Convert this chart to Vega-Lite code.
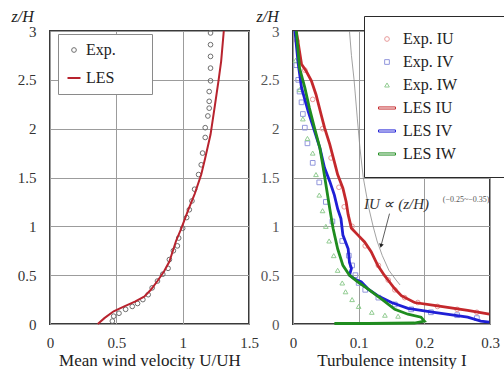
{
  "$schema": "https://vega.github.io/schema/vega-lite/v6.json",
  "padding": {"left": 10, "top": 7, "right": 0, "bottom": 0},
  "autosize": {"type": "pad"},
  "spacing": 44,
  "bounds": "flush",
  "resolve": {
    "scale": {"color": "independent", "shape": "independent", "size": "independent", "strokeWidth": "independent"},
    "legend": {"color": "independent", "shape": "independent", "size": "independent", "strokeWidth": "independent"}
  },
  "config": {
    "font": "Liberation Serif",
    "view": {"stroke": "#3a3a3a", "strokeWidth": 2},
    "axis": {"grid": true, "gridColor": "#9c9c9c", "gridWidth": 1, "domain": false, "ticks": false, "labelFont": "Liberation Serif", "labelFontSize": 15, "labelColor": "#333333", "titleFont": "Liberation Serif", "titleFontWeight": "normal", "titleFontSize": 17, "titleColor": "#222222"},
    "axisX": {"labelPadding": 11, "titlePadding": 2, "labelFlush": false},
    "axisY": {"labelPadding": 14, "titleAngle": 0, "titleAlign": "left", "titleBaseline": "alphabetic", "titleY": -10, "titleFontSize": 16, "titleFontStyle": "italic", "labelFlush": false},
    "legend": {"title": null}
  },
  "datasets": {
    "left": [
      {"s": "Exp.", "U": 1.21, "z": 2.98}, {"s": "Exp.", "U": 1.21, "z": 2.86}, {"s": "Exp.", "U": 1.21, "z": 2.74}, {"s": "Exp.", "U": 1.21, "z": 2.62},
      {"s": "Exp.", "U": 1.21, "z": 2.49}, {"s": "Exp.", "U": 1.2, "z": 2.38}, {"s": "Exp.", "U": 1.2, "z": 2.28}, {"s": "Exp.", "U": 1.2, "z": 2.21},
      {"s": "Exp.", "U": 1.19, "z": 2.13}, {"s": "Exp.", "U": 1.17, "z": 2.01}, {"s": "Exp.", "U": 1.17, "z": 1.91}, {"s": "Exp.", "U": 1.15, "z": 1.75},
      {"s": "Exp.", "U": 1.14, "z": 1.63}, {"s": "Exp.", "U": 1.12, "z": 1.53}, {"s": "Exp.", "U": 1.09, "z": 1.38}, {"s": "Exp.", "U": 1.07, "z": 1.26},
      {"s": "Exp.", "U": 1.05, "z": 1.17}, {"s": "Exp.", "U": 1.03, "z": 1.09}, {"s": "Exp.", "U": 1.0, "z": 0.98}, {"s": "Exp.", "U": 0.97, "z": 0.88},
      {"s": "Exp.", "U": 0.96, "z": 0.8}, {"s": "Exp.", "U": 0.93, "z": 0.75}, {"s": "Exp.", "U": 0.9, "z": 0.66}, {"s": "Exp.", "U": 0.89, "z": 0.57},
      {"s": "Exp.", "U": 0.85, "z": 0.51}, {"s": "Exp.", "U": 0.81, "z": 0.44}, {"s": "Exp.", "U": 0.77, "z": 0.37}, {"s": "Exp.", "U": 0.74, "z": 0.3},
      {"s": "Exp.", "U": 0.7, "z": 0.25}, {"s": "Exp.", "U": 0.66, "z": 0.21}, {"s": "Exp.", "U": 0.62, "z": 0.18}, {"s": "Exp.", "U": 0.57, "z": 0.15},
      {"s": "Exp.", "U": 0.52, "z": 0.11}, {"s": "Exp.", "U": 0.48, "z": 0.08}, {"s": "Exp.", "U": 0.47, "z": 0.03},
      {"s": "LES", "i": 0, "U": 0.36, "z": 0.0}, {"s": "LES", "i": 1, "U": 0.41, "z": 0.06}, {"s": "LES", "i": 2, "U": 0.48, "z": 0.13},
      {"s": "LES", "i": 3, "U": 0.56, "z": 0.18}, {"s": "LES", "i": 4, "U": 0.64, "z": 0.23}, {"s": "LES", "i": 5, "U": 0.71, "z": 0.28},
      {"s": "LES", "i": 6, "U": 0.76, "z": 0.35}, {"s": "LES", "i": 7, "U": 0.81, "z": 0.44}, {"s": "LES", "i": 8, "U": 0.86, "z": 0.54},
      {"s": "LES", "i": 9, "U": 0.9, "z": 0.64}, {"s": "LES", "i": 10, "U": 0.95, "z": 0.85}, {"s": "LES", "i": 11, "U": 0.99, "z": 0.98},
      {"s": "LES", "i": 12, "U": 1.04, "z": 1.16}, {"s": "LES", "i": 13, "U": 1.09, "z": 1.33}, {"s": "LES", "i": 14, "U": 1.14, "z": 1.53},
      {"s": "LES", "i": 15, "U": 1.17, "z": 1.7}, {"s": "LES", "i": 16, "U": 1.21, "z": 1.94}, {"s": "LES", "i": 17, "U": 1.24, "z": 2.21},
      {"s": "LES", "i": 18, "U": 1.27, "z": 2.49}, {"s": "LES", "i": 19, "U": 1.29, "z": 2.69}, {"s": "LES", "i": 20, "U": 1.31, "z": 3.0}
    ],
    "right": [
      {"s": "Exp. IU", "I": 0.006, "z": 2.9}, {"s": "Exp. IU", "I": 0.018, "z": 2.6}, {"s": "Exp. IU", "I": 0.03, "z": 2.3}, {"s": "Exp. IU", "I": 0.045, "z": 2.0},
      {"s": "Exp. IU", "I": 0.058, "z": 1.7}, {"s": "Exp. IU", "I": 0.07, "z": 1.4}, {"s": "Exp. IU", "I": 0.078, "z": 1.2}, {"s": "Exp. IU", "I": 0.09, "z": 1.0},
      {"s": "Exp. IU", "I": 0.11, "z": 0.8}, {"s": "Exp. IU", "I": 0.13, "z": 0.6}, {"s": "Exp. IU", "I": 0.145, "z": 0.45}, {"s": "Exp. IU", "I": 0.155, "z": 0.35},
      {"s": "Exp. IU", "I": 0.17, "z": 0.27}, {"s": "Exp. IU", "I": 0.19, "z": 0.22}, {"s": "Exp. IU", "I": 0.22, "z": 0.18}, {"s": "Exp. IU", "I": 0.25, "z": 0.15},
      {"s": "Exp. IU", "I": 0.28, "z": 0.12},
      {"s": "Exp. IV", "I": 0.005, "z": 2.65}, {"s": "Exp. IV", "I": 0.008, "z": 2.5}, {"s": "Exp. IV", "I": 0.01, "z": 2.38}, {"s": "Exp. IV", "I": 0.013, "z": 2.27},
      {"s": "Exp. IV", "I": 0.015, "z": 2.15}, {"s": "Exp. IV", "I": 0.018, "z": 2.01}, {"s": "Exp. IV", "I": 0.022, "z": 1.85}, {"s": "Exp. IV", "I": 0.03, "z": 1.65},
      {"s": "Exp. IV", "I": 0.04, "z": 1.45}, {"s": "Exp. IV", "I": 0.05, "z": 1.25}, {"s": "Exp. IV", "I": 0.06, "z": 1.05}, {"s": "Exp. IV", "I": 0.075, "z": 0.85},
      {"s": "Exp. IV", "I": 0.085, "z": 0.7}, {"s": "Exp. IV", "I": 0.09, "z": 0.6}, {"s": "Exp. IV", "I": 0.095, "z": 0.5}, {"s": "Exp. IV", "I": 0.1, "z": 0.42},
      {"s": "Exp. IV", "I": 0.11, "z": 0.35}, {"s": "Exp. IV", "I": 0.13, "z": 0.27}, {"s": "Exp. IV", "I": 0.155, "z": 0.2}, {"s": "Exp. IV", "I": 0.18, "z": 0.15},
      {"s": "Exp. IV", "I": 0.21, "z": 0.12}, {"s": "Exp. IV", "I": 0.25, "z": 0.09}, {"s": "Exp. IV", "I": 0.28, "z": 0.06},
      {"s": "Exp. IW", "I": 0.004, "z": 2.7}, {"s": "Exp. IW", "I": 0.01, "z": 2.4}, {"s": "Exp. IW", "I": 0.015, "z": 2.1}, {"s": "Exp. IW", "I": 0.022, "z": 1.9},
      {"s": "Exp. IW", "I": 0.03, "z": 1.75}, {"s": "Exp. IW", "I": 0.035, "z": 1.53}, {"s": "Exp. IW", "I": 0.04, "z": 1.32}, {"s": "Exp. IW", "I": 0.045, "z": 1.16},
      {"s": "Exp. IW", "I": 0.05, "z": 1.0}, {"s": "Exp. IW", "I": 0.055, "z": 0.85}, {"s": "Exp. IW", "I": 0.062, "z": 0.7}, {"s": "Exp. IW", "I": 0.068, "z": 0.55},
      {"s": "Exp. IW", "I": 0.075, "z": 0.42}, {"s": "Exp. IW", "I": 0.08, "z": 0.33}, {"s": "Exp. IW", "I": 0.09, "z": 0.25}, {"s": "Exp. IW", "I": 0.1, "z": 0.18},
      {"s": "Exp. IW", "I": 0.12, "z": 0.12}, {"s": "Exp. IW", "I": 0.14, "z": 0.09}, {"s": "Exp. IW", "I": 0.16, "z": 0.08},
      {"s": "LES IU", "i": 0, "I": 0.005, "z": 3.0}, {"s": "LES IU", "i": 1, "I": 0.013, "z": 2.66}, {"s": "LES IU", "i": 2, "I": 0.02, "z": 2.59},
      {"s": "LES IU", "i": 3, "I": 0.028, "z": 2.49}, {"s": "LES IU", "i": 4, "I": 0.035, "z": 2.35}, {"s": "LES IU", "i": 5, "I": 0.043, "z": 2.14},
      {"s": "LES IU", "i": 6, "I": 0.048, "z": 2.01}, {"s": "LES IU", "i": 7, "I": 0.056, "z": 1.84}, {"s": "LES IU", "i": 8, "I": 0.063, "z": 1.66},
      {"s": "LES IU", "i": 9, "I": 0.068, "z": 1.53}, {"s": "LES IU", "i": 10, "I": 0.076, "z": 1.39}, {"s": "LES IU", "i": 11, "I": 0.081, "z": 1.25},
      {"s": "LES IU", "i": 12, "I": 0.084, "z": 1.12}, {"s": "LES IU", "i": 13, "I": 0.089, "z": 0.98}, {"s": "LES IU", "i": 14, "I": 0.099, "z": 0.91},
      {"s": "LES IU", "i": 15, "I": 0.109, "z": 0.84}, {"s": "LES IU", "i": 16, "I": 0.119, "z": 0.74}, {"s": "LES IU", "i": 17, "I": 0.129, "z": 0.6},
      {"s": "LES IU", "i": 18, "I": 0.139, "z": 0.5}, {"s": "LES IU", "i": 19, "I": 0.147, "z": 0.43}, {"s": "LES IU", "i": 20, "I": 0.155, "z": 0.36},
      {"s": "LES IU", "i": 21, "I": 0.165, "z": 0.29}, {"s": "LES IU", "i": 22, "I": 0.185, "z": 0.22}, {"s": "LES IU", "i": 23, "I": 0.215, "z": 0.19},
      {"s": "LES IU", "i": 24, "I": 0.266, "z": 0.14}, {"s": "LES IU", "i": 25, "I": 0.299, "z": 0.1},
      {"s": "LES IV", "i": 0, "I": 0.003, "z": 3.0}, {"s": "LES IV", "i": 1, "I": 0.008, "z": 2.66}, {"s": "LES IV", "i": 2, "I": 0.013, "z": 2.42},
      {"s": "LES IV", "i": 3, "I": 0.023, "z": 2.18}, {"s": "LES IV", "i": 4, "I": 0.033, "z": 1.97}, {"s": "LES IV", "i": 5, "I": 0.041, "z": 1.8},
      {"s": "LES IV", "i": 6, "I": 0.048, "z": 1.6}, {"s": "LES IV", "i": 7, "I": 0.056, "z": 1.46}, {"s": "LES IV", "i": 8, "I": 0.063, "z": 1.32},
      {"s": "LES IV", "i": 9, "I": 0.068, "z": 1.18}, {"s": "LES IV", "i": 10, "I": 0.073, "z": 1.08}, {"s": "LES IV", "i": 11, "I": 0.076, "z": 0.91},
      {"s": "LES IV", "i": 12, "I": 0.084, "z": 0.77}, {"s": "LES IV", "i": 13, "I": 0.086, "z": 0.63}, {"s": "LES IV", "i": 14, "I": 0.089, "z": 0.57},
      {"s": "LES IV", "i": 15, "I": 0.086, "z": 0.5}, {"s": "LES IV", "i": 16, "I": 0.094, "z": 0.46}, {"s": "LES IV", "i": 17, "I": 0.104, "z": 0.43},
      {"s": "LES IV", "i": 18, "I": 0.114, "z": 0.36}, {"s": "LES IV", "i": 19, "I": 0.129, "z": 0.29}, {"s": "LES IV", "i": 20, "I": 0.15, "z": 0.22},
      {"s": "LES IV", "i": 21, "I": 0.175, "z": 0.16}, {"s": "LES IV", "i": 22, "I": 0.215, "z": 0.12}, {"s": "LES IV", "i": 23, "I": 0.266, "z": 0.07},
      {"s": "LES IV", "i": 24, "I": 0.286, "z": 0.03}, {"s": "LES IV", "i": 25, "I": 0.299, "z": 0.02},
      {"s": "LES IW", "i": 0, "I": 0.005, "z": 3.0}, {"s": "LES IW", "i": 1, "I": 0.01, "z": 2.62}, {"s": "LES IW", "i": 2, "I": 0.018, "z": 2.42},
      {"s": "LES IW", "i": 3, "I": 0.025, "z": 2.21}, {"s": "LES IW", "i": 4, "I": 0.033, "z": 2.0}, {"s": "LES IW", "i": 5, "I": 0.041, "z": 1.8},
      {"s": "LES IW", "i": 6, "I": 0.046, "z": 1.6}, {"s": "LES IW", "i": 7, "I": 0.051, "z": 1.39}, {"s": "LES IW", "i": 8, "I": 0.056, "z": 1.18},
      {"s": "LES IW", "i": 9, "I": 0.061, "z": 0.98}, {"s": "LES IW", "i": 10, "I": 0.068, "z": 0.77}, {"s": "LES IW", "i": 11, "I": 0.076, "z": 0.6},
      {"s": "LES IW", "i": 12, "I": 0.086, "z": 0.5}, {"s": "LES IW", "i": 13, "I": 0.099, "z": 0.43}, {"s": "LES IW", "i": 14, "I": 0.114, "z": 0.36},
      {"s": "LES IW", "i": 15, "I": 0.134, "z": 0.26}, {"s": "LES IW", "i": 16, "I": 0.155, "z": 0.15}, {"s": "LES IW", "i": 17, "I": 0.175, "z": 0.1},
      {"s": "LES IW", "i": 18, "I": 0.195, "z": 0.07}, {"s": "LES IW", "i": 19, "I": 0.2, "z": 0.03}, {"s": "LES IW", "i": 20, "I": 0.185, "z": 0.01},
      {"s": "LES IW", "i": 21, "I": 0.114, "z": 0.005}, {"s": "LES IW", "i": 22, "I": 0.063, "z": 0.005}
    ],
    "power": [
      {"I": 0.086, "z": 3.0}, {"I": 0.089, "z": 2.75}, {"I": 0.093, "z": 2.5}, {"I": 0.098, "z": 2.1}, {"I": 0.102, "z": 1.8},
      {"I": 0.107, "z": 1.5}, {"I": 0.115, "z": 1.2}, {"I": 0.122, "z": 1.0}, {"I": 0.128, "z": 0.85}, {"I": 0.136, "z": 0.7},
      {"I": 0.146, "z": 0.55}, {"I": 0.157, "z": 0.45}, {"I": 0.163, "z": 0.4}
    ]
  },
  "hconcat": [
    {
      "width": 199,
      "height": 293,
      "data": {"name": "left"},
      "encoding": {
        "x": {"field": "U", "type": "quantitative", "scale": {"domain": [0, 1.5], "nice": false}, "axis": {"values": [0, 0.5, 1, 1.5], "format": "~g", "title": "Mean wind velocity U/UH"}},
        "y": {"field": "z", "type": "quantitative", "scale": {"domain": [0, 3], "nice": false}, "axis": {"values": [0, 0.5, 1, 1.5, 2, 2.5, 3], "format": "~g", "title": "z/H", "titleX": -39}}
      },
      "layer": [
        {
          "transform": [{"filter": "datum.s == 'Exp.'"}],
          "mark": {"type": "point", "filled": false, "opacity": 1},
          "encoding": {
            "color": {"field": "s", "type": "nominal", "scale": {"domain": ["Exp.", "LES"], "range": ["#6e6e6e", "#b8232e"]},
              "legend": {"title": "M", "titleOrient": "right", "titleAngle": 0, "titleColor": "transparent", "titleFontSize": 4, "titlePadding": 24, "orient": "none", "legendX": 8, "legendY": 3, "fillColor": "white", "strokeColor": "#8a8a8a", "padding": 8, "rowPadding": 12, "labelFontSize": 16, "labelColor": "#222222", "labelOffset": 4, "encode": {"legend": {"update": {"strokeWidth": {"value": 1.5}}}}}},
            "shape": {"field": "s", "type": "nominal", "scale": {"domain": ["Exp.", "LES"], "range": ["circle", "stroke"]},
              "legend": {"title": "M", "titleOrient": "right", "titleAngle": 0, "titleColor": "transparent", "titleFontSize": 4, "titlePadding": 24, "orient": "none", "legendX": 8, "legendY": 3, "fillColor": "white", "strokeColor": "#8a8a8a", "padding": 8, "rowPadding": 12, "labelFontSize": 16, "labelColor": "#222222", "labelOffset": 4, "encode": {"legend": {"update": {"strokeWidth": {"value": 1.5}}}}}},
            "size": {"field": "s", "type": "nominal", "scale": {"domain": ["Exp.", "LES"], "range": [22, 169]},
              "legend": {"title": "M", "titleOrient": "right", "titleAngle": 0, "titleColor": "transparent", "titleFontSize": 4, "titlePadding": 24, "orient": "none", "legendX": 8, "legendY": 3, "fillColor": "white", "strokeColor": "#8a8a8a", "padding": 8, "rowPadding": 12, "labelFontSize": 16, "labelColor": "#222222", "labelOffset": 4, "encode": {"legend": {"update": {"strokeWidth": {"value": 1.5}}}}}},
            "strokeWidth": {"field": "s", "type": "nominal", "scale": {"domain": ["Exp.", "LES"], "range": [1, 2]},
              "legend": {"title": "M", "titleOrient": "right", "titleAngle": 0, "titleColor": "transparent", "titleFontSize": 4, "titlePadding": 24, "orient": "none", "legendX": 8, "legendY": 3, "fillColor": "white", "strokeColor": "#8a8a8a", "padding": 8, "rowPadding": 12, "labelFontSize": 16, "labelColor": "#222222", "labelOffset": 4, "encode": {"legend": {"update": {"strokeWidth": {"value": 1.5}}}}}}
          }
        },
        {
          "transform": [{"filter": "datum.s == 'LES'"}],
          "mark": {"type": "line", "strokeWidth": 2},
          "encoding": {
            "color": {"field": "s", "type": "nominal", "scale": {"domain": ["Exp.", "LES"], "range": ["#6e6e6e", "#b8232e"]}, "legend": null},
            "order": {"field": "i", "type": "quantitative"}
          }
        }
      ]
    },
    {
      "width": 197,
      "height": 293,
      "encoding": {
        "x": {"field": "I", "type": "quantitative", "scale": {"domain": [0, 0.3], "nice": false}, "axis": {"values": [0, 0.1, 0.2, 0.3], "format": "~g", "title": "Turbulence intensity I"}},
        "y": {"field": "z", "type": "quantitative", "scale": {"domain": [0, 3], "nice": false}, "axis": {"values": [0, 0.5, 1, 1.5, 2, 2.5, 3], "format": "~g", "title": "z/H", "titleX": -37, "labelColor": "#555555"}}
      },
      "layer": [
        {
          "data": {"name": "power"},
          "mark": {"type": "line", "color": "#8a8a8a", "strokeWidth": 0.8},
          "encoding": {}
        },
        {
          "data": {"name": "right"},
          "transform": [{"filter": "indexof(datum.s, 'Exp.') == 0"}],
          "mark": {"type": "point", "filled": false, "opacity": 1, "size": 22, "strokeWidth": 1},
          "encoding": {
            "color": {"field": "s", "type": "nominal", "scale": {"domain": ["Exp. IU", "Exp. IV", "Exp. IW", "LES IU", "LES IV", "LES IW"], "range": ["#e89a9a", "#9297dc", "#92cc92", "#c4282c", "#1f1fd6", "#1f8c1f"]},
              "legend": {"title": "M", "titleOrient": "right", "titleAngle": 0, "titleColor": "transparent", "titleFontSize": 4, "titlePadding": 38, "orient": "none", "legendX": 71, "legendY": -15, "fillColor": "white", "strokeColor": "#2a2a2a", "padding": 15, "rowPadding": 7, "symbolSize": 22, "symbolStrokeWidth": 1, "labelFontSize": 16, "labelColor": "#222222", "labelOffset": 8, "encode": {"legend": {"update": {"strokeWidth": {"value": 2.5}}}}}},
            "shape": {"field": "s", "type": "nominal", "scale": {"domain": ["Exp. IU", "Exp. IV", "Exp. IW", "LES IU", "LES IV", "LES IW"], "range": ["circle", "square", "triangle-up", "M-3.6,-0.45L3.6,-0.45L3.6,0.45L-3.6,0.45Z", "M-3.6,-0.45L3.6,-0.45L3.6,0.45L-3.6,0.45Z", "M-3.6,-0.45L3.6,-0.45L3.6,0.45L-3.6,0.45Z"]},
              "legend": {"title": "M", "titleOrient": "right", "titleAngle": 0, "titleColor": "transparent", "titleFontSize": 4, "titlePadding": 38, "orient": "none", "legendX": 71, "legendY": -15, "fillColor": "white", "strokeColor": "#2a2a2a", "padding": 15, "rowPadding": 7, "symbolSize": 22, "symbolStrokeWidth": 1, "labelFontSize": 16, "labelColor": "#222222", "labelOffset": 8, "encode": {"legend": {"update": {"strokeWidth": {"value": 2.5}}}}}}
          }
        },
        {
          "data": {"name": "right"},
          "transform": [{"filter": "indexof(datum.s, 'LES') == 0"}],
          "mark": {"type": "line", "strokeWidth": 2.8},
          "encoding": {
            "color": {"field": "s", "type": "nominal", "scale": {"domain": ["Exp. IU", "Exp. IV", "Exp. IW", "LES IU", "LES IV", "LES IW"], "range": ["#e89a9a", "#9297dc", "#92cc92", "#c4282c", "#1f1fd6", "#1f8c1f"]}, "legend": null},
            "order": {"field": "i", "type": "quantitative"}
          }
        },
        {
          "data": {"values": [{"I": 0.147, "z": 1.13, "I2": 0.134, "z2": 0.8}]},
          "mark": {"type": "rule", "color": "#333333", "strokeWidth": 0.8},
          "encoding": {"x2": {"field": "I2"}, "y2": {"field": "z2"}}
        },
        {
          "data": {"values": [{"I": 0.134, "z": 0.8}]},
          "mark": {"type": "point", "shape": "triangle-up", "filled": true, "color": "#222222", "size": 22, "angle": 193, "opacity": 1},
          "encoding": {}
        },
        {
          "data": {"values": [{"I": 0.108, "z": 1.23, "t": "IU ∝ (z/H)"}]},
          "mark": {"type": "text", "align": "left", "baseline": "middle", "font": "Liberation Serif", "fontStyle": "italic", "fontSize": 15, "color": "#333333"},
          "encoding": {"text": {"field": "t"}}
        },
        {
          "data": {"values": [{"I": 0.228, "z": 1.27, "t": "(−0.25~−0.35)"}]},
          "mark": {"type": "text", "align": "left", "baseline": "middle", "font": "Liberation Serif", "fontSize": 8, "color": "#555555"},
          "encoding": {"text": {"field": "t"}}
        }
      ]
    }
  ]
}
